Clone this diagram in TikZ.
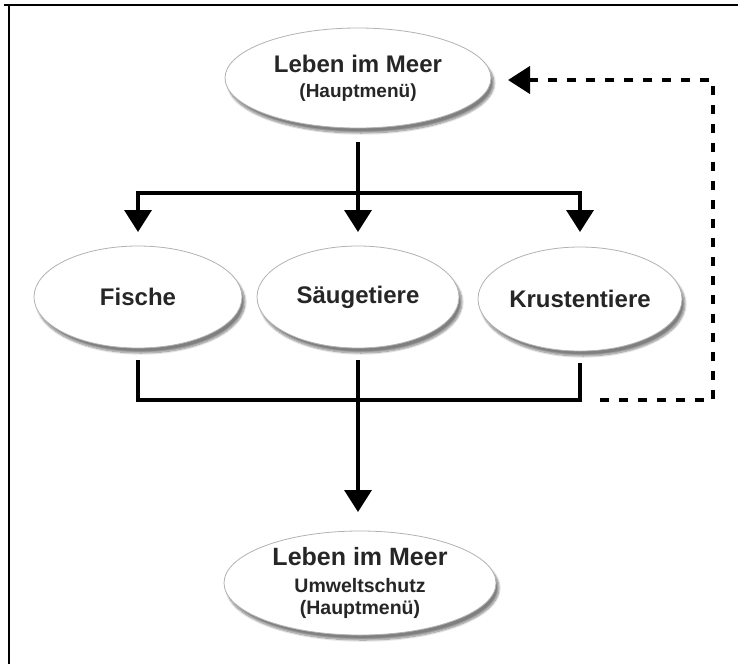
\documentclass[tikz,border=0pt]{standalone}
\usepackage{fontspec}
\setmainfont{Liberation Sans}
\usetikzlibrary{arrows.meta,shadows.blur,shapes.geometric}
\begin{document}
\begin{tikzpicture}[x=1pt,y=-1pt,
  oval/.style={ellipse,draw=black!30,line width=0.8pt,fill=white,inner sep=0pt,
    blur shadow={shadow xshift=3pt,shadow yshift=-5pt,shadow blur steps=10,shadow opacity=50},
    align=center,text=black!85,font=\fontsize{24}{24}\selectfont\bfseries},
  conn/.style={line width=3.6pt,draw=black},
  tip/.style={-{Triangle[width=27pt,length=22pt]}},
  back/.style={line width=4.2pt,draw=black,dash pattern=on 9pt off 10pt}]
\useasboundingbox (0,0) rectangle (738,664);
% frame
\draw[line width=2.4pt] (4,5) -- (738,5);
\draw[line width=2.4pt] (9,5) -- (9,664);

% menu ovals
\node[oval,minimum width=266,minimum height=100] (top) at (358,78)
  {Leben im Meer\\[1pt]
   {\fontsize{19}{20}\selectfont (Hauptmenü)}};
\node[oval,minimum width=208,minimum height=102] (fish) at (138,297) {Fische};
\node[oval,minimum width=202,minimum height=102] (saeuge) at (358,297) {Säugetiere};
\node[oval,minimum width=204,minimum height=104] (krust) at (580,299) {Krustentiere};
\node[oval,minimum width=272,minimum height=104] (bottom) at (360,583)
  {\fontsize{25}{25}\selectfont Leben im Meer\\[3pt]
   {\fontsize{19.5}{21}\selectfont Umweltschutz}\\[-2pt]
   {\fontsize{19.5}{21}\selectfont (Hauptmenü)}};

% branch points
\coordinate (split) at (358,193);
\coordinate (join) at (358,400);
\coordinate (fishIn) at (138,232);
\coordinate (saeugeIn) at (358,232);
\coordinate (krustIn) at (580,232);
\coordinate (bottomIn) at (358,512);
\coordinate (loopA) at (713,400);
\coordinate (loopB) at (713,80);
\coordinate (topIn) at (508,80);

% main menu to the three sections
\draw[conn,shorten <=14pt] (top.south) -- (split);
\draw[conn,tip] (split) -| (fishIn);
\draw[conn,tip] (split) -- (saeugeIn);
\draw[conn,tip] (split) -| (krustIn);

% sections back together to the next page
\draw[conn,shorten <=12pt] (fish.south) |- (join);
\draw[conn,shorten <=12pt] (krust.south) |- (join);
\draw[conn,shorten <=12pt] (saeuge.south) -- (join);
\draw[conn,tip] (join) -- (bottomIn);

% return path to the main menu
\draw[back,tip,shorten <=20pt] (krust.south |- join) -- (loopA) -- (loopB) -- (topIn);
\end{tikzpicture}
\end{document}
